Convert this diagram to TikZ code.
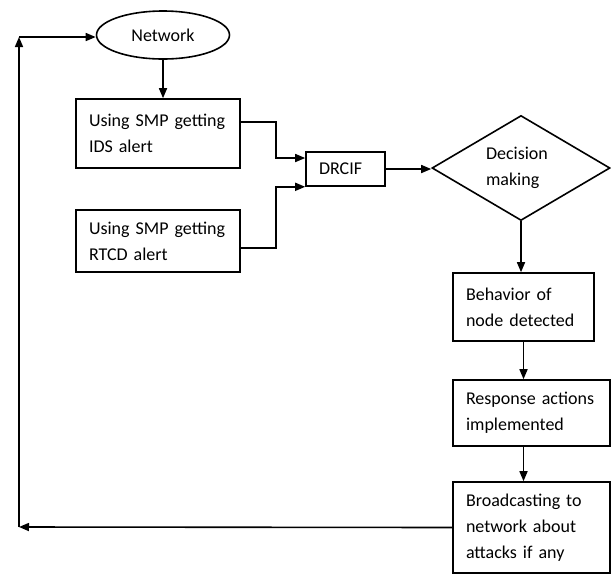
\documentclass[tikz,border=0pt]{standalone}
\usepackage{fontspec}
\setmainfont{Carlito}
\usetikzlibrary{shapes.geometric, arrows.meta}

\begin{document}
\begin{tikzpicture}[
        x=1pt, y=-1pt,
        every node/.style={font=\fontsize{18}{26}\selectfont},
        box/.style={draw, line width=1.6pt, inner xsep=13pt, inner ysep=0pt,
                    align=left},
        term/.style={draw, line width=1.6pt, ellipse, minimum width=133pt,
                     minimum height=48pt, inner sep=0pt},
        decide/.style={draw, line width=1.6pt, diamond, aspect=1.7,
                       minimum width=178pt, minimum height=105pt,
                       inner sep=0pt, text width=70pt, align=left},
        flow/.style={line width=1.6pt, -{Triangle[length=10pt, width=8pt]}},
    ]
        \useasboundingbox (0,0) rectangle (611,574);

        \node[term] (net) at (163,35) {Network};
        \node[box, text width=138pt, minimum height=69pt] (ids)  at (158,133.5) {Using SMP getting\\IDS alert};
        \node[box, text width=138pt, minimum height=62pt] (rtcd) at (158,241)   {Using SMP getting\\RTCD alert};
        \node[box, text width=53pt,  minimum height=34pt] (drcif) at (345.5,169) {DRCIF};
        \node[decide] (dec) at (521,168) {Decision\\making};
        \node[box, text width=115pt, minimum height=68pt] (beh)   at (523.5,307)   {Behavior of\\node detected};
        \node[box, text width=131pt, minimum height=66pt] (resp)  at (531.5,413)   {Response actions\\implemented};
        \node[box, text width=131pt, minimum height=91pt] (bcast) at (531.5,527.5) {Broadcasting to\\network about\\attacks if any};

        \coordinate (lb) at (19,527);
        \coordinate (lt) at (19,37);

        \draw[flow] (net.south) -- (net.south |- ids.north);
        \draw[flow] ([yshift=11.5pt]ids.east) -- ++(35,0) |- ([yshift=11pt]drcif.west);
        \draw[flow] ([yshift=-7pt]rtcd.east) -- ++(35,0) |- (drcif.south west);
        \draw[flow] (drcif.east) -- (drcif.east -| dec.west);
        \draw[flow] (dec.south) -- (dec.south |- beh.north);
        \draw[flow] (beh.south) -- (beh.south |- resp.north);
        \draw[flow] (beh.south |- resp.south) -- (beh.south |- bcast.north);
        \draw[flow] (bcast.west) -- (lb);
        \draw[flow] (lb) -- (lt);
        \draw[flow] (lt) -- (lt -| net.west);
    \end{tikzpicture}
\end{document}
